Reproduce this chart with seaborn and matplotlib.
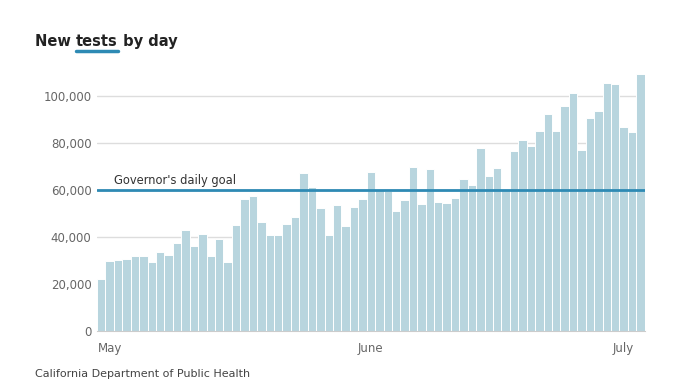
import pandas as pd
import matplotlib
matplotlib.use("Agg")
import matplotlib.pyplot as plt
import seaborn as sns
from matplotlib.lines import Line2D
from matplotlib import font_manager

# ── Data ──────────────────────────────────────────────────────────────────────

dates = pd.date_range("2020-04-30", "2020-07-03", freq="D")
tests = [22200, 29700, 30100, 30800, 32100, 32000, 29300, 33800, 32400, 37300,
         43100, 36200, 41500, 32100, 39000, 29300, 45300, 56200, 57400, 46600,
         40700, 41000, 45600, 48500, 67300, 61100, 52300, 40700, 53700, 44900,
         53000, 56200, 67600, 60500, 59500, 51300, 55700, 69900, 53900, 69000,
         54900, 54400, 56700, 64600, 62100, 77700, 66200, 69600, 60500, 76600,
         81300, 78800, 85000, 92400, 85200, 95900, 101400, 76900, 90800, 93500,
         105600, 105300, 87000, 84500, 109300]
goal = 60000
month_ticks = ["2020-05-01", "2020-06-01", "2020-07-01"]
month_labels = ["May", "June", "July"]
y_ticks = [0, 20000, 40000, 60000, 80000, 100000]

df = pd.DataFrame({"day": dates.strftime("%Y-%m-%d"), "tests": tests})

# ── Chart ─────────────────────────────────────────────────────────────────────

sns.set_style("white")
plt.rcParams["font.family"] = ["DejaVu Sans"]

names = {f.name for f in font_manager.fontManager.ttflist}
title_font = "Liberation Sans Narrow" if "Liberation Sans Narrow" in names else "DejaVu Sans"
title_size = 12.5 if title_font != "DejaVu Sans" else 10.5

fig = plt.figure(figsize=(6.83, 3.9), dpi=100)
ax = fig.add_axes([0.142, 0.151, 0.802, 0.675])

sns.barplot(data=df, x="day", y="tests", color="#b8d5de", saturation=1,
            width=1.0, edgecolor="white", linewidth=0.7, ax=ax)

ax.axhline(goal, color="#2e8ab4", linewidth=2, zorder=3)
ax.text(1.5, goal + 1500, "Governor's daily goal", fontsize=8.3, color="#333333",
        va="bottom", ha="left")

ax.set_xlim(-0.5, len(tests) - 0.5)
ax.set_ylim(0, 112000)
ax.set_yticks(y_ticks)
ax.set_yticklabels([f"{v:,}" for v in y_ticks], fontsize=8.5, color="#666666")
ax.yaxis.grid(True, color="#dddddd", linewidth=1)
ax.set_axisbelow(True)

day_list = list(df["day"])
ax.set_xticks([day_list.index(d) for d in month_ticks])
ax.set_xticklabels(month_labels, fontsize=8.5, color="#666666")
ax.tick_params(axis="x", length=5, color="#cccccc", pad=3)
ax.tick_params(axis="y", length=0, pad=4)

ax.set_xlabel("")
ax.set_ylabel("")
for side in ["top", "right", "left"]:
    ax.spines[side].set_visible(False)
ax.spines["bottom"].set_color("#cccccc")

# title with underlined word
renderer = fig.canvas.get_renderer()
x0, ty = 35 / 683, 1 - 46 / 390
parts = ["New ", "tests", " by day"]
x = x0
for part in parts:
    t = fig.text(x, ty, part, fontsize=title_size, fontweight="bold", color="#222222",
                 va="baseline", ha="left", family=title_font)
    bb = t.get_window_extent(renderer).transformed(fig.transFigure.inverted())
    if part == "tests":
        fig.add_artist(Line2D([bb.x0, bb.x1], [ty - 0.013, ty - 0.013],
                              color="#2e8ab4", linewidth=2.5,
                              transform=fig.transFigure))
    x = bb.x1

fig.text(35 / 683, 1 - 374 / 390, "California Department of Public Health",
         fontsize=8, color="#444444", va="center", ha="left")

fig.savefig("out.png", dpi=100)
